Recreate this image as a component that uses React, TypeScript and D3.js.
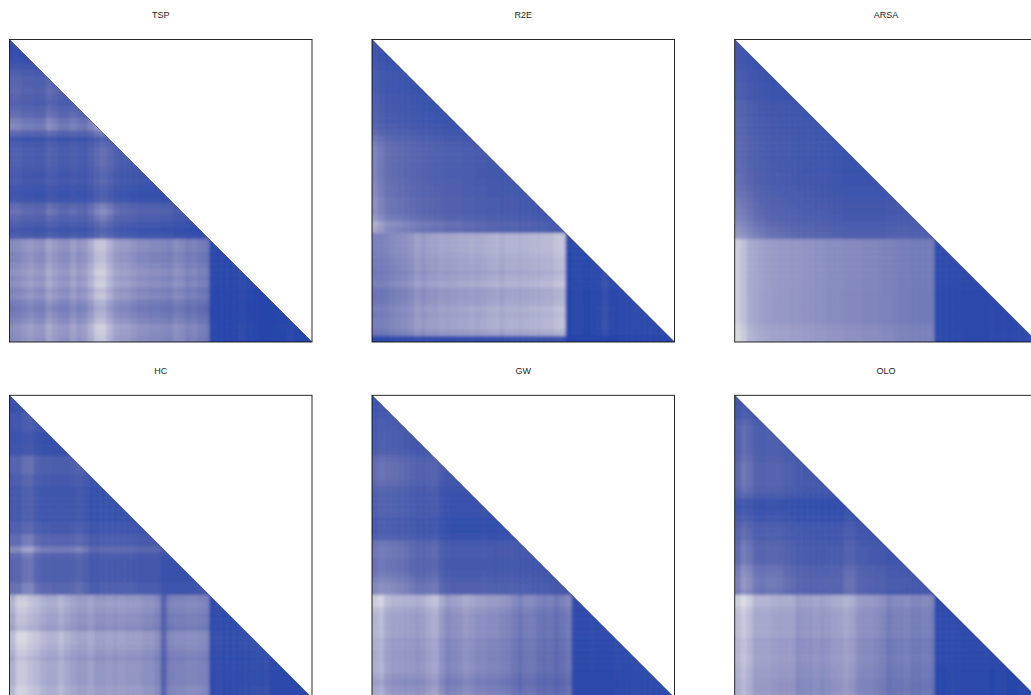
import React from "react";
import * as d3 from "d3";

const panelNames = ["TSP", "R2E", "ARSA", "HC", "GW", "OLO"];
const splitCells = [33, 32, 33, 33, 33, 33];

const tspRows = [.12,.12,.13,.15,.20,.26,.30,.30,.33,.30,.28,.32,.36,.44,.48,.32,.18,.24,.26,.26,.26,.24,.22,.24,.20,.18,.20,.34,.38,.32,.26,.20,.24,.75,.75,.70,.70,.75,.80,.75,.80,.70,.75,.65,.60,.65,.70,.80,.78,.75];
const tspColsUpper = [1.1,1.1,1,1,.95,.95,1.2,1.1,.95,.95,1.05,.95,.9,1.1,1.35,1.5,1.3,1.05,.95,.95,.9,.85,.85,.85,.85,.8,.8,.7,.7,.65,.6,.55,.55,.5,.5,.5,.5,.5,.5,.5,.5,.5,.5,.5,.5,.5,.5,.5,.5,.5];
const tspColsLower = [.72,.75,.8,.85,.8,.78,.95,.85,.8,.78,.9,.8,.85,1,1.2,1.22,1.05,.9,.85,.85,.8,.75,.75,.72,.72,.7,.68,.75,.72,.65,.68,.62,.6,.1,.09,.08,.08,.1,.14,.1,.09,.08,.08,.09,.1,.1,.14,.1,.1,.1];

const r2eRows = [.12,.12,.12,.12,.14,.15,.15,.15,.15,.17,.17,.17,.18,.18,.20,.22,.26,.29,.30,.30,.30,.30,.30,.31,.32,.32,.34,.34,.34,.37,.45,.42,.80,.80,.80,.78,.75,.75,.72,.75,.80,.70,.70,.72,.78,.75,.78,.78,.70,.15];
const r2eColsUpper = [1.7,1.5,1.3,1.25,1.2,1.15,1.1,1.05,1,1,.95,.95,.9,.9,.9,.85,.85,.8,.8,.75,.75,.7,.7,.7,.65,.65,.65,.6,.6,.55,.55,.5,.5,.5,.5,.5,.5,.5,.5,.5,.5,.5,.5,.5,.5,.5,.5,.5,.5,.5];
const r2eColsLower = [.62,.62,.64,.68,.7,.72,.76,.85,.8,.85,.85,.9,.88,.9,.92,.92,.95,.92,.95,.98,1,.95,1,1,.98,1,1.02,1.02,1.05,1.05,1.12,1.14,.1,.12,.12,.1,.12,.14,.22,.14,.12,.12,.12,.14,.12,.12,.12,.12,.12,.12];

const arsaRows = [.11,.11,.11,.11,.12,.13,.13,.14,.14,.14,.16,.16,.16,.17,.17,.17,.18,.18,.18,.18,.19,.19,.20,.20,.21,.22,.23,.24,.25,.26,.28,.30,.32,.85,.85,.85,.85,.85,.85,.85,.85,.85,.85,.85,.85,.85,.85,.90,.92,.92];
const arsaColsUpper = [2,1.9,1.7,1.55,1.45,1.35,1.3,1.25,1.2,1.15,1.1,1.05,1.05,1,1,1,.95,.95,.9,.9,.9,.9,.9,.9,.9,.95,.95,.95,.95,.9,.9,.85,.85,.5,.5,.5,.5,.5,.5,.5,.5,.5,.5,.5,.5,.5,.5,.5,.5,.5];
const arsaColsLower = [1.12,1.02,.88,.84,.8,.78,.76,.74,.74,.72,.72,.7,.7,.68,.68,.66,.66,.66,.64,.64,.64,.62,.62,.62,.6,.6,.58,.56,.56,.54,.54,.54,.54,.1,.1,.1,.11,.11,.1,.1,.1,.1,.12,.11,.12,.11,.12,.11,.12,.12];

const hcRows = [.12,.12,.12,.16,.17,.17,.14,.14,.15,.15,.26,.26,.26,.22,.22,.18,.18,.18,.18,.18,.18,.22,.22,.30,.30,.44,.30,.27,.27,.27,.27,.33,.33,.85,.90,.85,.80,.80,.75,.93,.93,.90,.85,.80,.85,.85,.85,.85,.90,.90];
const hcColsUpper = [1.25,1.25,1.55,1.6,1.25,1.1,1.1,1.05,1.05,1.05,1.1,1.2,1.05,.8,.8,.85,.85,.85,.85,.85,.85,.8,.8,.8,.8,.6,.6,.6,.6,.6,.6,.6,.6,.4,.4,.4,.4,.4,.4,.4,.4,.4,.4,.4,.4,.4,.4,.4,.4,.4];
const hcColsLower = [.9,1.1,1.1,1.02,.98,.9,.85,.85,.93,.85,.8,.75,.75,.8,.72,.72,.75,.72,.75,.72,.72,.72,.68,.68,.62,.36,.58,.6,.6,.62,.62,.6,.58,.12,.14,.12,.12,.12,.14,.14,.16,.16,.18,.1,.1,.1,.1,.1,.1,.1];

const gwRows = [.14,.14,.15,.16,.18,.19,.20,.20,.20,.22,.28,.30,.30,.30,.28,.24,.22,.22,.22,.22,.19,.19,.19,.22,.32,.34,.34,.32,.32,.34,.38,.42,.42,1,1,.90,.85,.85,.85,.85,.80,.80,.78,.78,.80,.80,.75,.70,.75,.80];
const gwColsUpper = [1.3,1.4,1.35,1.3,1.25,1.2,1.1,1,1,1.05,1.1,.85,.75,.72,.72,.72,.72,.72,.75,.72,.7,.7,.7,.7,.65,.65,.62,.6,.6,.58,.55,.55,.55,.4,.4,.4,.4,.4,.4,.4,.4,.4,.4,.4,.4,.4,.4,.4,.4,.4];
const gwColsLower = [.95,1,.85,.8,.8,.78,.78,.75,.78,.85,.9,.75,.65,.68,.7,.75,.72,.68,.68,.65,.65,.62,.6,.55,.5,.55,.55,.5,.48,.5,.45,.5,.55,.12,.12,.12,.13,.12,.12,.12,.14,.12,.12,.14,.12,.12,.12,.12,.12,.12];

const oloRows = [.16,.16,.17,.18,.24,.26,.26,.26,.26,.26,.28,.30,.30,.30,.30,.28,.24,.16,.15,.17,.19,.24,.26,.26,.30,.32,.32,.32,.38,.40,.42,.42,.40,.95,.95,.88,.85,.85,.85,.85,.80,.80,.80,.82,.80,.78,.78,.75,.75,.78];
const oloColsUpper = [1.2,1.5,1.35,1.1,1.05,1.1,1.1,1.05,.95,.9,.8,.78,.75,.75,.75,.78,.78,.8,1,1,.82,.78,.75,.72,.7,.62,.62,.6,.58,.55,.55,.55,.55,.4,.4,.4,.4,.4,.4,.4,.4,.4,.4,.4,.4,.4,.4,.4,.4,.4];
const oloColsLower = [1,1.1,1,.85,.85,.85,.82,.8,.8,.8,.7,.72,.72,.75,.72,.75,.78,.8,.85,.8,.7,.68,.68,.65,.62,.55,.58,.58,.6,.55,.55,.58,.55,.1,.1,.12,.12,.11,.11,.12,.12,.12,.1,.11,.11,.1,.1,.11,.1,.1];

const rowLevels = [tspRows, r2eRows, arsaRows, hcRows, gwRows, oloRows];
const upperCols = [tspColsUpper, r2eColsUpper, arsaColsUpper, hcColsUpper, gwColsUpper, oloColsUpper];
const lowerCols = [tspColsLower, r2eColsLower, arsaColsLower, hcColsLower, gwColsLower, oloColsLower];

const cellIndex = d3.range(50);
const colour = d3
  .scaleLinear<string>()
  .domain([0.06, 0.35, 0.62, 0.88, 1.05])
  .range(["#2545aa", "#5a66ae", "#9496c4", "#bfc0d8", "#dcdce2"])
  .clamp(true);

const SIZE = 302.5;
const col0 = [9.5, 372, 734.7];
const row0 = [39.5, 395.3];

function Panel({ idx }: { idx: number }) {
  const px = col0[idx % 3];
  const py = row0[Math.floor(idx / 3)];
  const band = d3.scaleBand<number>().domain(cellIndex).range([0, SIZE]);
  const w = band.bandwidth();
  const split = splitCells[idx];
  const rows = rowLevels[idx];
  const tri = `0,0 ${SIZE},${SIZE} 0,${SIZE}`;
  return (
    <g transform={`translate(${px},${py})`}>
      <text x={SIZE / 2} y={-21.5} textAnchor="middle" fontFamily="'Liberation Sans', Arial, sans-serif" fontSize={9} fill="#222">
        {panelNames[idx]}
      </text>
      <clipPath id={`tri${idx}`}>
        <polygon points={tri} />
      </clipPath>
      <filter id={`blur${idx}`} filterUnits="userSpaceOnUse" x={-20} y={-20} width={SIZE + 40} height={SIZE + 40}>
        <feGaussianBlur stdDeviation={1.4} />
      </filter>
      <g clipPath={`url(#tri${idx})`}>
        <g filter={`url(#blur${idx})`}>
          {cellIndex.flatMap((r) =>
            cellIndex
              .filter((c) => c <= r + 2)
              .map((c) => {
                const profile = r < split ? upperCols[idx] : lowerCols[idx];
                const v = rows[r] * profile[c];
                const x0 = band(c)! - (c === 0 ? 12 : 0);
                const y0 = band(r)! - (r === 0 ? 12 : 0);
                const ww = w + (c === 0 ? 12 : 0) + 0.4;
                const hh = w + (r === 0 || r === 49 ? 12 : 0) + 0.4;
                return <rect key={`${r}-${c}`} x={x0} y={y0} width={ww} height={hh} fill={colour(v)} />;
              })
          )}
        </g>
      </g>
      <line x1={0} y1={0} x2={SIZE} y2={SIZE} stroke="#1c2a5e" strokeWidth={0.8} strokeOpacity={0.75} />
      <rect x={0} y={0} width={SIZE} height={SIZE} fill="none" stroke="#111" strokeWidth={0.9} />
    </g>
  );
}

export default function App() {
  return (
    <svg width={1031} height={695} viewBox="0 0 1031 695" style={{ position: "absolute", left: 0, top: 0, display: "block", background: "#fff" }}>
      {panelNames.map((_, i) => (
        <Panel key={i} idx={i} />
      ))}
    </svg>
  );
}
